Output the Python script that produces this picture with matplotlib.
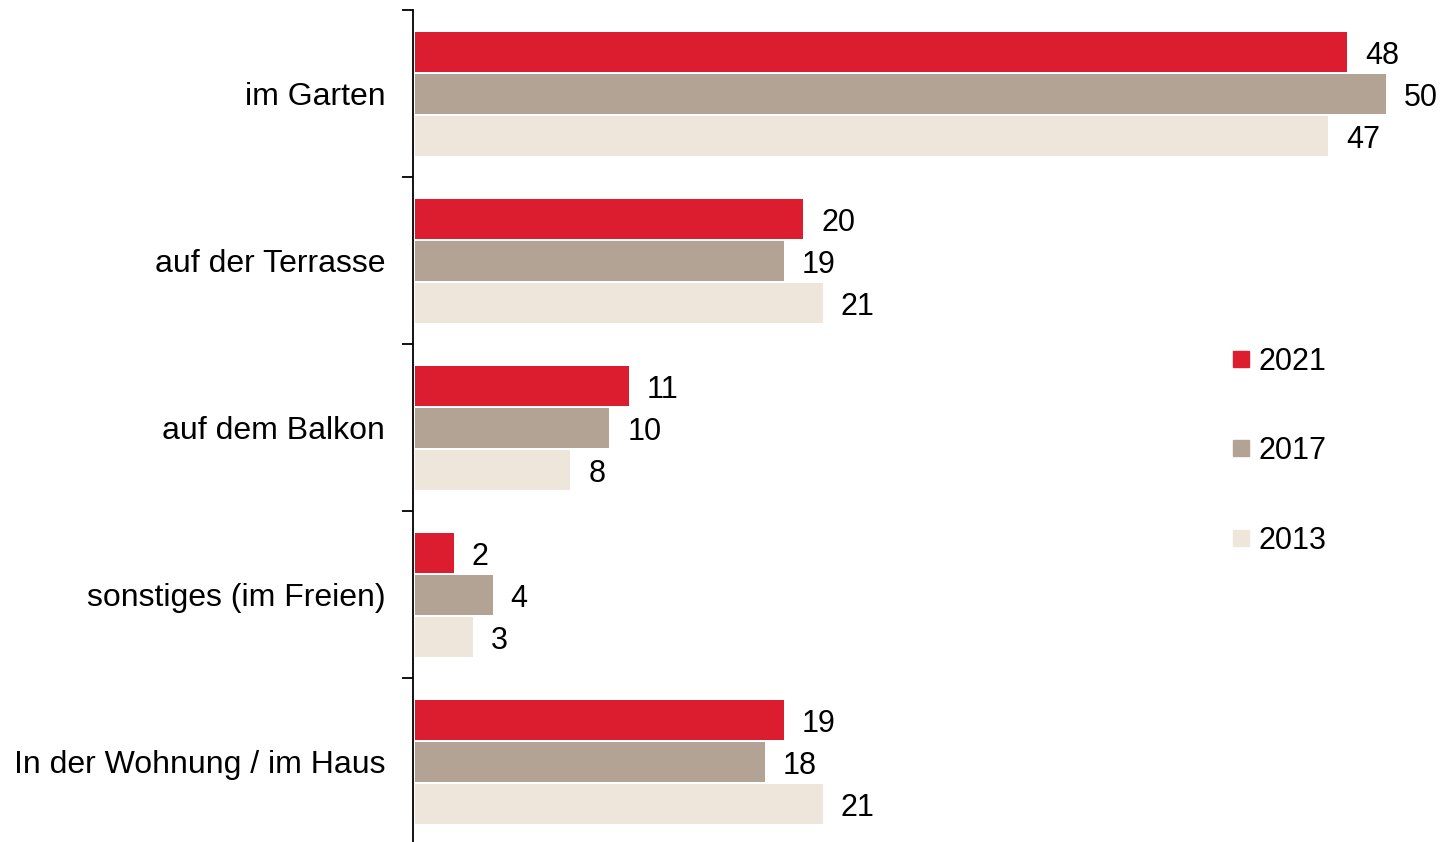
import numpy as np
import matplotlib.pyplot as plt
from matplotlib.lines import Line2D

plt.rcParams["font.family"] = ["Liberation Sans", "DejaVu Sans"]

categories = ["im Garten", "auf der Terrasse", "auf dem Balkon",
              "sonstiges (im Freien)", "In der Wohnung / im Haus"]
years = ["2021", "2017", "2013"]
v2021 = [48, 20, 11, 2, 19]
v2017 = [50, 19, 10, 4, 18]
v2013 = [47, 21, 8, 3, 21]
colors = ["#DC1C2F", "#B3A394", "#EFE6DB"]

fig = plt.figure(figsize=(14.44, 8.42), dpi=100)
ax = fig.add_axes([413 / 1444, -3 / 842, (1386 - 413) / 1444, 835 / 842])

n = len(categories)
pos = np.arange(n)
h = 40 / 167
step = 42 / 167
for i, (vals, c, yr) in enumerate(zip([v2021, v2017, v2013], colors, years)):
    y = pos + (i - 1) * step
    ax.barh(y, vals, height=h, color=c, label=yr)
    for v, yy in zip(vals, y):
        ax.annotate(str(v), xy=(v, yy), xytext=(13, -3), textcoords="offset points",
                    va="center", ha="left", fontsize=22)

ax.set_xlim(-0.1, 50)
ax.set_ylim(n - 0.5, -0.5)
ax.set_yticks(np.arange(n + 1) - 0.5)
ax.set_yticklabels([])
ax.tick_params(axis="y", which="major", length=8, width=1.3, direction="out")
ax.set_yticks(pos, minor=True)
ax.set_yticklabels(categories, minor=True, fontsize=23)
ax.tick_params(axis="y", which="minor", length=0, pad=20)
ax.set_xticks([])
for s in ["top", "right", "bottom"]:
    ax.spines[s].set_visible(False)
ax.spines["left"].set_linewidth(1.3)

handles = [Line2D([], [], marker="s", ls="", markersize=11, color=c) for c in colors]
fig.legend(handles, years, loc="upper left", bbox_to_anchor=(1204 / 1444, 1 - 319 / 842),
           frameon=False, fontsize=22, handlelength=0.6, handletextpad=0.3,
           labelspacing=1.95)

fig.savefig("out.png", dpi=100)
